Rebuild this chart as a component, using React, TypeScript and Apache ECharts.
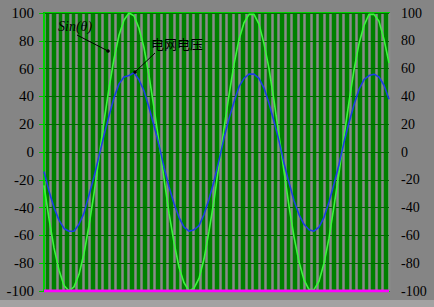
import React, { useEffect, useRef } from "react";
import * as echarts from "echarts";

// x positions (sample index spacing along the time axis)
const xPos = [
  0, 5, 10, 15, 20, 25, 30, 35, 40, 45, 50, 55, 60, 65, 70, 75, 80, 85, 90, 95,
  100, 105, 110, 115, 120, 125, 130, 135, 140, 145, 150, 155, 160, 165, 170, 175, 180, 185, 190, 195,
  200, 205, 210, 215, 220, 225, 230, 235, 240, 245, 250, 255, 260, 265, 270, 275, 280, 285, 290, 295,
  300, 305, 310, 315, 320, 325, 330, 335, 340, 345,
];

// Sin(θ) curve
const sinValues = [
  -24, -48, -69, -85, -96, -100, -97, -88, -73, -53, -30, -4, 22, 46, 67, 84, 95, 100, 98, 89, 75, 55, 32, 7,
  -19, -44, -65, -83, -94, -100, -98, -91, -77, -57, -35, -9, 17, 41, 63, 81, 93, 99, 99, 92, 78, 60, 37, 12,
  -14, -39, -61, -79, -92, -99, -99, -93, -80, -62, -39, -15, 11, 36, 59, 78, 91, 99, 99, 94, 81, 64,
];

// 电网电压 curve
const gridVoltage = [
  -14, -28, -40, -49, -55, -57, -57, -52, -44, -31, -18, -3, 12, 26, 39, 49, 54, 55, 57, 52, 44, 32, 19, 5,
  -11, -25, -37, -47, -54, -57, -56, -53, -45, -34, -21, -6, 10, 24, 36, 47, 53, 56, 56, 53, 46, 35, 22, 8,
  -8, -22, -35, -45, -52, -56, -57, -54, -47, -36, -23, -9, 7, 21, 34, 45, 52, 55, 56, 54, 48, 38,
];

// bottom reference level
const baseLevel = [-100, -100];
const baseX = [0, 345];

const yMin = -100;
const yMax = 100;
const yStep = 20;
const stripeCount = 53;

export default function App() {
  const ref = useRef<HTMLDivElement>(null);
  useEffect(() => {
    if (!ref.current) return;
    const chart = echarts.init(ref.current, undefined, { renderer: "svg" });
    const labelFont = { fontFamily: "Liberation Serif", color: "#000" };
    chart.setOption({
      animation: false,
      backgroundColor: "#858585",
      grid: {
        left: 44,
        right: 45,
        top: 13,
        bottom: 16,
        show: true,
        backgroundColor: "#008000",
        borderColor: "#00d400",
        borderWidth: 2,
      },
      xAxis: [
        {
          type: "value",
          min: 0,
          max: 345,
          show: false,
        },
        {
          type: "value",
          min: 0,
          max: stripeCount,
          interval: 1,
          position: "bottom",
          axisLine: { show: false },
          axisTick: { show: false },
          axisLabel: { show: false },
          splitLine: { show: true, lineStyle: { color: "#8a8a8a", width: 2.5 } },
        },
      ],
      yAxis: [
        {
          type: "value",
          min: yMin,
          max: yMax,
          interval: yStep,
          position: "left",
          axisLine: { show: true, lineStyle: { color: "#00d400", width: 2 } },
          axisTick: { show: true, inside: false, length: 5, lineStyle: { color: "#00c000", width: 1 } },
          axisLabel: { ...labelFont, fontSize: 15, margin: 10 },
          splitLine: { show: true, lineStyle: { color: "#006a00", width: 1 } },
          z: 3,
        },
        {
          type: "value",
          min: yMin,
          max: yMax,
          interval: yStep,
          position: "right",
          axisLine: { show: true, lineStyle: { color: "#000", width: 1.5 } },
          axisTick: { show: true, inside: false, length: 6, lineStyle: { color: "#000", width: 1 } },
          axisLabel: { ...labelFont, fontSize: 14, margin: 12 },
          splitLine: { show: false },
        },
      ],
      series: [
        {
          name: "Sin(θ)",
          type: "line",
          xAxisIndex: 0,
          yAxisIndex: 0,
          data: xPos.map((x, i) => [x, sinValues[i]]),
          showSymbol: false,
          lineStyle: { color: "#3cf53c", width: 1.6 },
          z: 4,
        },
        {
          name: "电网电压",
          type: "line",
          xAxisIndex: 0,
          yAxisIndex: 0,
          data: xPos.map((x, i) => [x, gridVoltage[i]]),
          showSymbol: false,
          lineStyle: { color: "#1e3ce6", width: 1.6 },
          z: 5,
        },
        {
          name: "base",
          type: "line",
          xAxisIndex: 0,
          yAxisIndex: 0,
          data: baseX.map((x, i) => [x, baseLevel[i]]),
          showSymbol: false,
          lineStyle: { color: "#ff00ff", width: 3 },
          z: 6,
        },
      ],
      graphic: [
        {
          type: "rect",
          shape: { x: 0, y: 300, width: 434, height: 7 },
          style: { fill: "#a2a2a2" },
          z: 1,
        },
        {
          type: "text",
          x: 58,
          y: 19,
          style: {
            text: "Sin(θ)",
            font: "italic 14px 'Liberation Serif'",
            fill: "#000",
          },
          z: 10,
        },
        {
          type: "line",
          shape: { x1: 77, y1: 35, x2: 108, y2: 51 },
          style: { stroke: "#000", lineWidth: 1 },
          z: 10,
        },
        {
          type: "circle",
          shape: { cx: 108, cy: 51, r: 1.8 },
          style: { fill: "#000" },
          z: 10,
        },
        {
          type: "text",
          x: 151,
          y: 37,
          style: {
            text: "电网电压",
            font: "13px 'Noto Sans CJK SC'",
            fill: "#000",
          },
          z: 10,
        },
        {
          type: "line",
          shape: { x1: 155, y1: 53, x2: 135, y2: 72 },
          style: { stroke: "#000", lineWidth: 1 },
          z: 10,
        },
        {
          type: "circle",
          shape: { cx: 135, cy: 72, r: 1.8 },
          style: { fill: "#000" },
          z: 10,
        },
      ],
    });
    return () => chart.dispose();
  }, []);
  return (
    <div
      ref={ref}
      style={{ position: "absolute", left: 0, top: 0, width: 434, height: 307 }}
    />
  );
}
